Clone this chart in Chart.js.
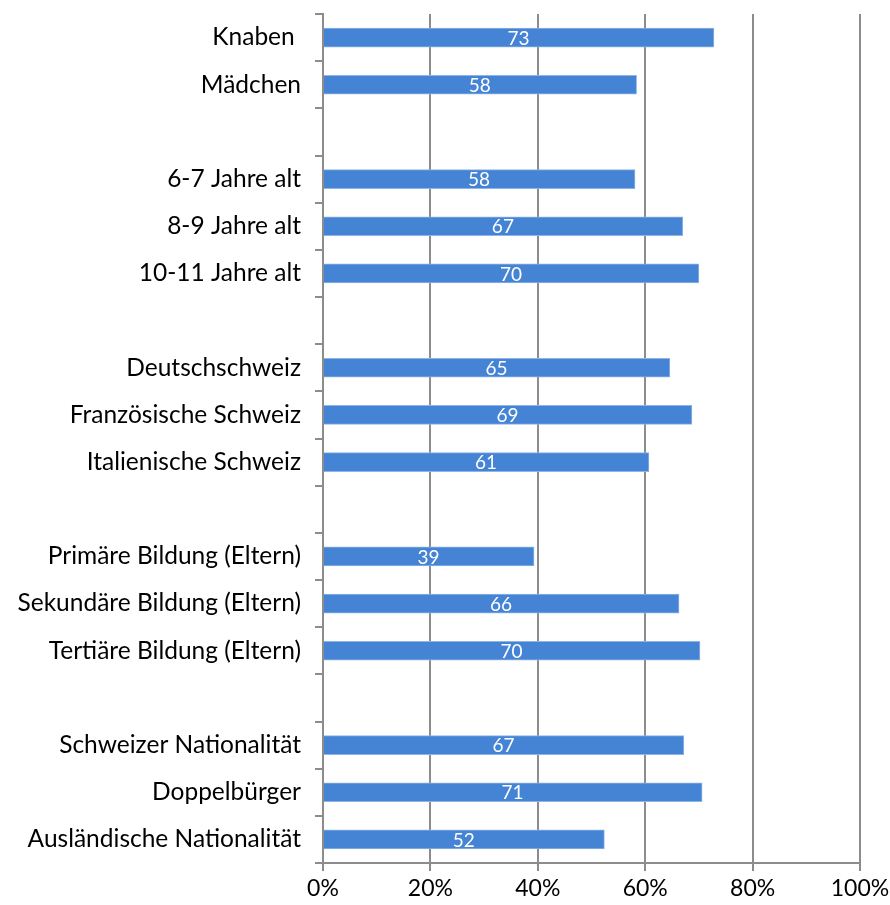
<!DOCTYPE html>
<html>
<head>
<meta charset="utf-8">
<script src="https://cdn.jsdelivr.net/npm/chart.js@4/dist/chart.umd.min.js"></script>
<style>
html,body{margin:0;padding:0;background:#fff;}
#wrap{width:890px;height:905px;}
</style>
</head>
<body>
<div id="wrap"><canvas id="c" width="890" height="905"></canvas></div>
<script>
const categories = ['Knaben ', 'Mädchen', '', '6-7 Jahre alt', '8-9 Jahre alt', '10-11 Jahre alt', '',
  'Deutschschweiz', 'Französische Schweiz', 'Italienische Schweiz', '',
  'Primäre Bildung (Eltern)', 'Sekundäre Bildung (Eltern)', 'Tertiäre Bildung (Eltern)', '',
  'Schweizer Nationalität', 'Doppelbürger', 'Ausländische Nationalität'];
const values = [72.8, 58.4, null, 58.1, 67.0, 70.0, null,
  64.6, 68.7, 60.7, null,
  39.3, 66.3, 70.2, null,
  67.2, 70.6, 52.4];
const xTicks = [0, 20, 40, 60, 80, 100];

const FONT = 'Lato, "Open Sans", sans-serif';
const GRID = '#8c8c8c';

const valueLabels = {
  id: 'valueLabels',
  afterDatasetsDraw(chart) {
    const ctx = chart.ctx;
    const meta = chart.getDatasetMeta(0);
    ctx.save();
    ctx.fillStyle = '#ffffff';
    ctx.font = '19px ' + FONT;
    ctx.textAlign = 'center';
    ctx.textBaseline = 'middle';
    meta.data.forEach((bar, i) => {
      const v = values[i];
      if (v === null) return;
      const x0 = chart.scales.x.getPixelForValue(0);
      ctx.fillText(String(Math.round(v)), (x0 + bar.x) / 2, bar.y + 1);
    });
    ctx.restore();
  }
};

new Chart(document.getElementById('c'), {
  type: 'bar',
  data: {
    labels: categories,
    datasets: [{
      data: values,
      backgroundColor: '#4583d4',
      borderColor: '#8fb4e6',
      borderWidth: 1,
      barThickness: 19,
      borderSkipped: 'left'
    }]
  },
  options: {
    indexAxis: 'y',
    responsive: false,
    animation: false,
    layout: { padding: { top: 14, right: 30, left: 0, bottom: 0 } },
    plugins: { legend: { display: false }, tooltip: { enabled: false } },
    scales: {
      x: {
        min: 0, max: 100,
        afterBuildTicks(axis) { axis.ticks = xTicks.map(v => ({ value: v })); },
        border: { display: true, color: GRID, width: 2 },
        grid: { color: GRID, lineWidth: 2, tickLength: 8, drawTicks: true },
        ticks: {
          color: '#000',
          font: { family: FONT, size: 23 },
          padding: 4,
          callback: v => v + '%'
        },
        afterFit(axis) { axis.height = 42; axis.paddingLeft = 0; axis.paddingRight = 0; }
      },
      y: {
        border: { display: true, color: GRID, width: 2 },
        grid: { drawOnChartArea: false, drawTicks: true, tickLength: 8, color: GRID, lineWidth: 2, offset: true },
        ticks: {
          color: '#000',
          font: { family: FONT, size: 24.5 },
          padding: 14,
          autoSkip: false
        },
        afterFit(axis) { axis.width = 323; axis.paddingTop = 0; axis.paddingBottom = 0; }
      }
    }
  },
  plugins: [valueLabels]
});
</script>
</body>
</html>
